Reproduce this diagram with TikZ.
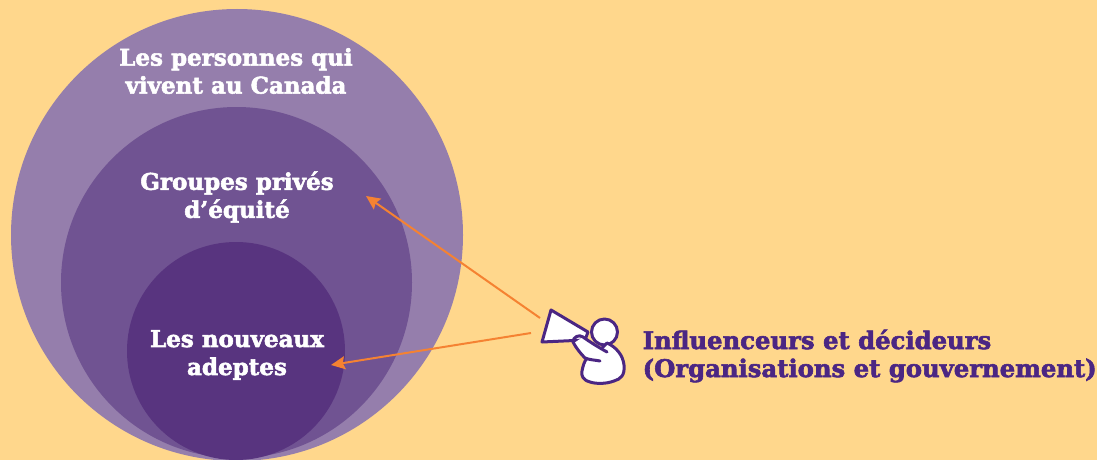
\documentclass[tikz,border=0pt]{standalone}
\usepackage{fontspec}
\setmainfont[BoldFeatures={FakeBold=2.4}]{DejaVu Serif}
\usetikzlibrary{arrows.meta}
\definecolor{bgc}{HTML}{FFD78C}
\definecolor{outerc}{HTML}{957EAC}
\definecolor{midc}{HTML}{705392}
\definecolor{innerc}{HTML}{58347F}
\definecolor{inkc}{HTML}{4B2683}
\definecolor{arrowc}{HTML}{F58232}
\tikzset{
  disc/.style={circle,inner sep=0pt,minimum size=#1},
  wlabel/.style={text=white,font=\bfseries\fontsize{23}{28}\selectfont,align=center,inner sep=0pt},
  plabel/.style={text=inkc,font=\bfseries\fontsize{24.3}{28}\selectfont,align=left,inner sep=0pt,anchor=west},
  reach/.style={draw=arrowc,line width=2pt,-{Stealth[length=14pt,width=13pt,inset=2pt]}},
  icon/.style={draw=inkc,fill=white,line width=3pt,line join=round,line cap=round}
}
\begin{document}
\begin{tikzpicture}[x=1pt,y=-1pt]
\useasboundingbox[fill=bgc] (0,0) rectangle (1097,460);
\begin{scope}
\clip (0,0) rectangle (1097,460);
\node[disc=452pt,fill=outerc] (outer) at (237,235) {};
\node[disc=351pt,fill=midc] (mid) at (236.5,282.5) {};
\node[disc=218pt,fill=innerc] (inner) at (236,351) {};
\end{scope}
\node[wlabel] (t1) at (236,71) {Les personnes qui\\vivent au Canada};
\node[wlabel] (t2) at (237,197) {Groupes privés\\d’équité};
\node[wlabel] (t3) at (237,355) {Les nouveaux\\adeptes};
\node[plabel] (t4) at (642.5,356) {Influenceurs et décideurs\\(Organisations et gouvernement)};
\coordinate (s1) at (540,318);
\coordinate (e1) at (366,196);
\coordinate (s2) at (531,333);
\coordinate (e2) at (331,365);
\draw[reach] (s1) -- (e1);
\draw[reach] (s2) -- (e2);
% megaphone
\draw[icon] (551,310) -- (588,332) -- (585,340) -- (542,342) -- cycle;
% head
\node[circle,icon,minimum size=26pt,inner sep=0pt] (head) at (604.5,332) {};
% body
\draw[icon] (607,343) .. controls (616,347) and (623,355) .. (624,365)
  .. controls (625,375) and (621,379) .. (614,381)
  .. controls (606,384) and (596,384) .. (590,382)
  .. controls (583,380) and (581,376) .. (582,371)
  .. controls (583,366) and (584,362) .. (587,358) -- (600,350) -- cycle;
% arm
\fill[white] (583,337) -- (607,351) -- (602,361) -- (586,358) -- (574,343) -- cycle;
\draw[icon,fill=none] (607,352) .. controls (598,347) and (590,342) .. (583,337)
  .. controls (579,334) and (573,337) .. (573,342)
  .. controls (576,348) and (581,354) .. (585,358)
  .. controls (590,360) and (595,360) .. (600,361);
\end{tikzpicture}
\end{document}
